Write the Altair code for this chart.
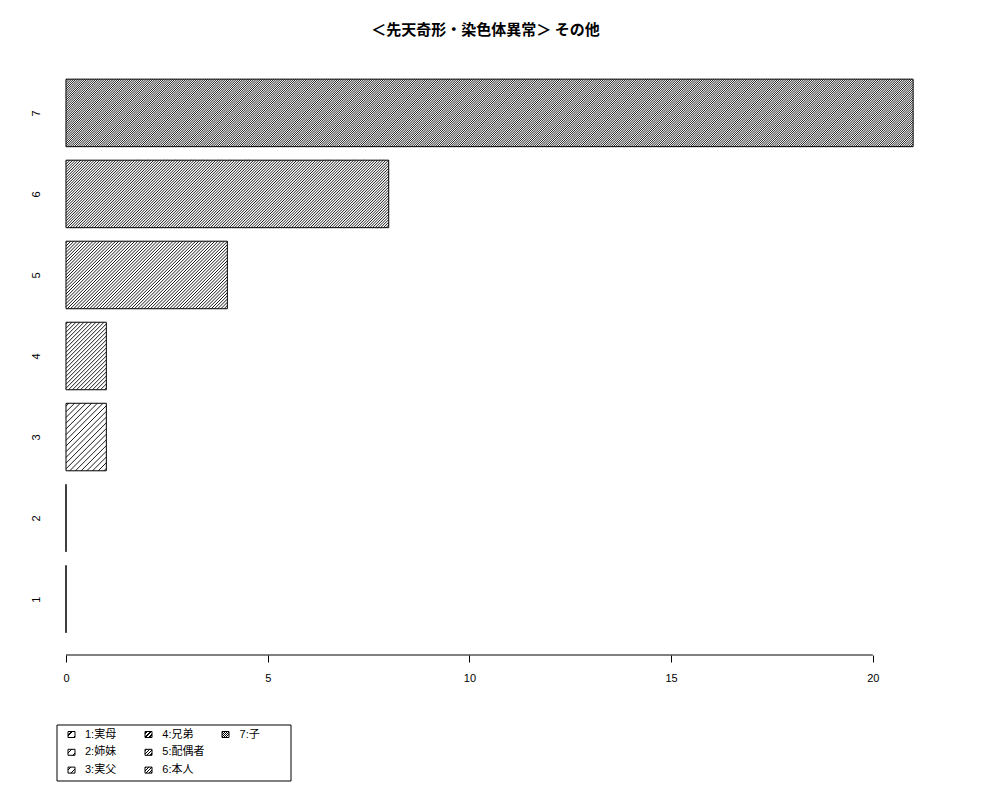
import altair as alt
import pandas as pd

# ---------------- data ----------------
categories = ["1", "2", "3", "4", "5", "6", "7"]
labels = ["1:実母", "2:姉妹", "3:実父", "4:兄弟", "5:配偶者", "6:本人", "7:子"]
values = [0, 0, 1, 1, 4, 8, 21]
x_ticks = [0, 5, 10, 15, 20]
title_text = "＜先天奇形・染色体異常＞ その他"

# ---------------- style / layout ----------------
HATCH = [8.0, 7.0, 5.7, 4.0, 3.2, 2.7, 2.2]   # horizontal spacing of hatch lines (px)
HATCH_LW = 0.9
PLOT_W, PLOT_H = 881, 598
X_MAX = 21.84
BAR_W, BAR_SPACE = 1.0, 0.2                    # barplot layout (width, space)
Y_MIN, Y_MAX = -0.128, 8.728
FONT = "Liberation Sans, Noto Sans CJK JP"
SX = PLOT_W / X_MAX                            # px per x unit
SY = PLOT_H / (Y_MAX - Y_MIN)                  # px per y unit
SYM_W, SYM_H = 7, 6

df = pd.DataFrame({"cat": categories, "label": labels, "value": values,
                   "idx": list(range(len(categories)))})

# hatch line segments derived from the bar values (fill style)
seg = {"x": [], "x2": [], "y": [], "y2": []}
for i, v in enumerate(values):
    if v <= 0:
        continue
    W = v * SX
    H = BAR_W * SY
    top = BAR_SPACE + (BAR_W + BAR_SPACE) * i + BAR_W
    h = HATCH[i]
    c = h / 2.0
    while c < W + H:
        p0 = max(0.0, c - H)
        p1 = min(W, c)
        seg["x"].append(p0 / SX)
        seg["y"].append(top - (c - p0) / SY)
        seg["x2"].append(p1 / SX)
        seg["y2"].append(top - (c - p1) / SY)
        c += h
seg_df = pd.DataFrame(seg)


def hatch_gradient(W, H, h, lw=1.1):
    L = W + H
    k = L * W / (W * W + H * H)
    stops = [{"offset": 0, "color": "white"}]
    c = h / 2.0
    while c - lw / 2 < L:
        a = round(max(0.0, (c - lw / 2) / L), 5)
        b = round(min(1.0, (c + lw / 2) / L), 5)
        stops += [
            {"offset": a, "color": "white"},
            {"offset": a, "color": "black"},
            {"offset": b, "color": "black"},
            {"offset": b, "color": "white"},
        ]
        c += h
    stops.append({"offset": 1, "color": "white"})
    return {"gradient": "linear", "x1": 0, "y1": 0,
            "x2": round(k, 5), "y2": round(k * H / W, 5), "stops": stops}


x_scale = alt.Scale(domain=[0, X_MAX], nice=False, zero=True)
y_scale = alt.Scale(domain=[Y_MIN, Y_MAX], nice=False, zero=False)
x_axis = alt.Axis(values=x_ticks, domain=False, grid=False, tickSize=7,
                  tickColor="black", tickWidth=1, labelColor="black",
                  labelFont=FONT, labelFontSize=11, labelPadding=10,
                  labelFlush=False, title=None)
label_values = [BAR_SPACE + (BAR_W + BAR_SPACE) * i + BAR_W / 2 for i in range(len(categories))]
y_axis = alt.Axis(values=label_values, title=None, domain=False, ticks=False, tickSize=0,
                  grid=False, labelAngle=-90, labelAlign="center", labelBaseline="middle",
                  labelPadding=30, labelFont=FONT, labelFontSize=11, labelColor="black",
                  labelFlush=False,
                  labelExpr="%s[round((datum.value - %g) / %g)]" % (
                      str(categories), BAR_SPACE + BAR_W / 2, BAR_W + BAR_SPACE))

base = alt.Chart(df)

bars = base.transform_calculate(
    ylo="%g + %g * datum.idx" % (BAR_SPACE, BAR_W + BAR_SPACE),
    yhi="%g + %g * datum.idx + %g" % (BAR_SPACE, BAR_W + BAR_SPACE, BAR_W),
).mark_bar(fill="white", strokeWidth=0).encode(
    x=alt.X("value:Q", scale=x_scale, axis=x_axis),
    x2=alt.datum(0),
    y=alt.Y("ylo:Q", scale=y_scale, axis=y_axis),
    y2="yhi:Q",
)

hatch = alt.Chart(seg_df).mark_rule(color="black", strokeWidth=HATCH_LW).encode(
    x=alt.X("x:Q", scale=x_scale), x2="x2:Q",
    y=alt.Y("y:Q", scale=y_scale), y2="y2:Q",
)

outline = base.transform_calculate(
    ylo="%g + %g * datum.idx" % (BAR_SPACE, BAR_W + BAR_SPACE),
    yhi="%g + %g * datum.idx + %g" % (BAR_SPACE, BAR_W + BAR_SPACE, BAR_W),
).mark_bar(fill=None, stroke="black", strokeWidth=1).encode(
    x=alt.X("value:Q", scale=x_scale), x2=alt.datum(0),
    y=alt.Y("ylo:Q", scale=y_scale), y2="yhi:Q",
)

axis_line = alt.Chart(pd.DataFrame({"t": x_ticks})).mark_rule(
    color="black", strokeWidth=1).encode(
    x=alt.X("min(t):Q", scale=x_scale), x2="max(t):Q", y=alt.value(PLOT_H))

# ---------------- legend (3 columns, filled column-wise) ----------------
sym_layers = []
for i, c in enumerate(categories):
    sfill = hatch_gradient(SYM_W, SYM_H, HATCH[i])
    sym_layers.append(
        base.transform_filter(alt.datum.cat == c)
        .transform_calculate(col="floor(datum.idx / 3)", row="datum.idx % 3")
        .transform_calculate(
            sx="2 + 77 * datum.col", sx2="2 + 77 * datum.col + %d" % SYM_W,
            sy="674.5 + 17.8 * datum.row", sy2="674.5 + 17.8 * datum.row + %d" % SYM_H)
        .mark_rect(fill=sfill, stroke="black", strokeWidth=1)
        .encode(x=alt.X("sx:Q", scale=None), x2="sx2:Q",
                y=alt.Y("sy:Q", scale=None), y2="sy2:Q")
    )

legend_text = base.transform_calculate(
    col="floor(datum.idx / 3)", row="datum.idx % 3"
).transform_calculate(
    tx="19 + 77.3 * datum.col", ty="677.5 + 17.8 * datum.row"
).mark_text(align="left", baseline="middle", font=FONT, fontSize=11,
            color="black").encode(
    x=alt.X("tx:Q", scale=None), y=alt.Y("ty:Q", scale=None), text="label:N")

legend_box = alt.Chart(pd.DataFrame({"a": [0]})).mark_rect(
    fill=None, stroke="black", strokeWidth=1).encode(
    x=alt.value(-9), x2=alt.value(225), y=alt.value(668), y2=alt.value(724))

main = alt.layer(bars, hatch, outline, axis_line)
legend = alt.layer(legend_box, *sym_layers, legend_text)

chart = alt.layer(main, legend).resolve_scale(
    x="independent", y="independent"
).properties(
    width=PLOT_W, height=PLOT_H,
    title=alt.TitleParams(text=title_text, font="Noto Sans CJK JP", fontSize=15,
                          fontWeight="bold", color="black", anchor="middle",
                          dx=-21, offset=12, baseline="middle"),
    autosize=alt.AutoSizeParams(type="none"),
    padding={"left": 58, "top": 49, "right": 40, "bottom": 130},
).configure_view(stroke=None)

chart.save("out.html", embed_options={"renderer": "svg", "actions": False})
